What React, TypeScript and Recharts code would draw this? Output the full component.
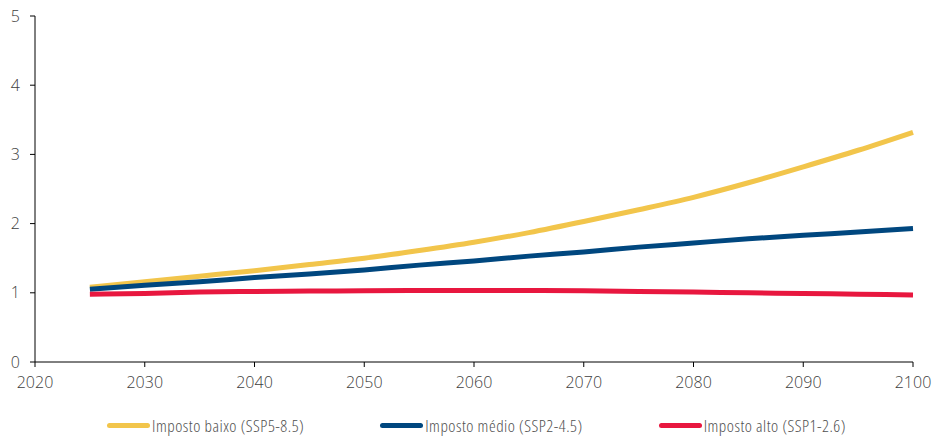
import { LineChart, Line, XAxis, YAxis, Legend } from 'recharts';

const years = [2025, 2030, 2035, 2040, 2045, 2050, 2055, 2060, 2065, 2070, 2075, 2080, 2085, 2090, 2095, 2100];
const impostoBaixo = [1.08, 1.16, 1.24, 1.32, 1.41, 1.5, 1.61, 1.73, 1.87, 2.03, 2.2, 2.38, 2.59, 2.82, 3.06, 3.32];
const impostoMedio = [1.05, 1.11, 1.16, 1.22, 1.27, 1.33, 1.4, 1.46, 1.53, 1.59, 1.66, 1.72, 1.78, 1.83, 1.88, 1.93];
const impostoAlto = [0.98, 0.99, 1.01, 1.02, 1.025, 1.03, 1.035, 1.035, 1.035, 1.03, 1.02, 1.01, 1.0, 0.99, 0.98, 0.97];
const xTicks = [2020, 2030, 2040, 2050, 2060, 2070, 2080, 2090, 2100];
const yTicks = [0, 1, 2, 3, 4, 5];

const series = [
    { key: 'baixo', name: 'Imposto baixo (SSP5-8.5)', color: '#F2C54B' },
    { key: 'medio', name: 'Imposto médio (SSP2-4.5)', color: '#00477F' },
    { key: 'alto', name: 'Imposto alto (SSP1-2.6)', color: '#E8173F' },
];

const data = years.map((year, i) => ({
    year,
    baixo: impostoBaixo[i],
    medio: impostoMedio[i],
    alto: impostoAlto[i],
}));

const font = '"Open Sans", sans-serif';

function LegendRow() {
    return (
        <div style={{ display: 'flex', justifyContent: 'center', alignItems: 'center', boxSizing: 'border-box', height: 40, paddingTop: 4, paddingLeft: 8, gap: 76, fontFamily: font, fontStretch: 'condensed', fontWeight: 300, fontSize: 17, letterSpacing: 0.5, color: '#505050' }}>
            {series.map((s) => (
                <div key={s.key} style={{ display: 'flex', alignItems: 'center' }}>
                    <span style={{ display: 'inline-block', width: 43, height: 5, borderRadius: 3, background: s.color, marginRight: 2 }} />
                    <span>{s.name}</span>
                </div>
            ))}
        </div>
    );
}

export default function App() {
    return (
        <div style={{ position: 'absolute', left: 0, top: 0, background: '#fff' }}>
            <LineChart width={945} height={443} data={data} margin={{ top: 16, right: 32, left: 0, bottom: 0 }}>
                <XAxis
                    dataKey="year"
                    type="number"
                    domain={[2020, 2100]}
                    ticks={xTicks}
                    height={41}
                    tickSize={5}
                    tickMargin={10}
                    axisLine={{ stroke: '#000' }}
                    tickLine={{ stroke: '#000' }}
                    tick={{ fill: '#404040', fontSize: 16, fontWeight: 300, fontFamily: font }}
                />
                <YAxis
                    domain={[0, 5]}
                    ticks={yTicks}
                    width={35}
                    tickSize={5}
                    tickMargin={10}
                    axisLine={{ stroke: '#000' }}
                    tickLine={{ stroke: '#000' }}
                    tick={{ fill: '#404040', fontSize: 16, fontWeight: 300, fontFamily: font }}
                />
                <Legend verticalAlign="bottom" wrapperStyle={{ left: 0, width: 945 }} content={() => <LegendRow />} />
                {series.map((s) => (
                    <Line
                        key={s.key}
                        type="monotone"
                        dataKey={s.key}
                        name={s.name}
                        stroke={s.color}
                        strokeWidth={5}
                        dot={false}
                        isAnimationActive={false}
                    />
                ))}
            </LineChart>
        </div>
    );
}
